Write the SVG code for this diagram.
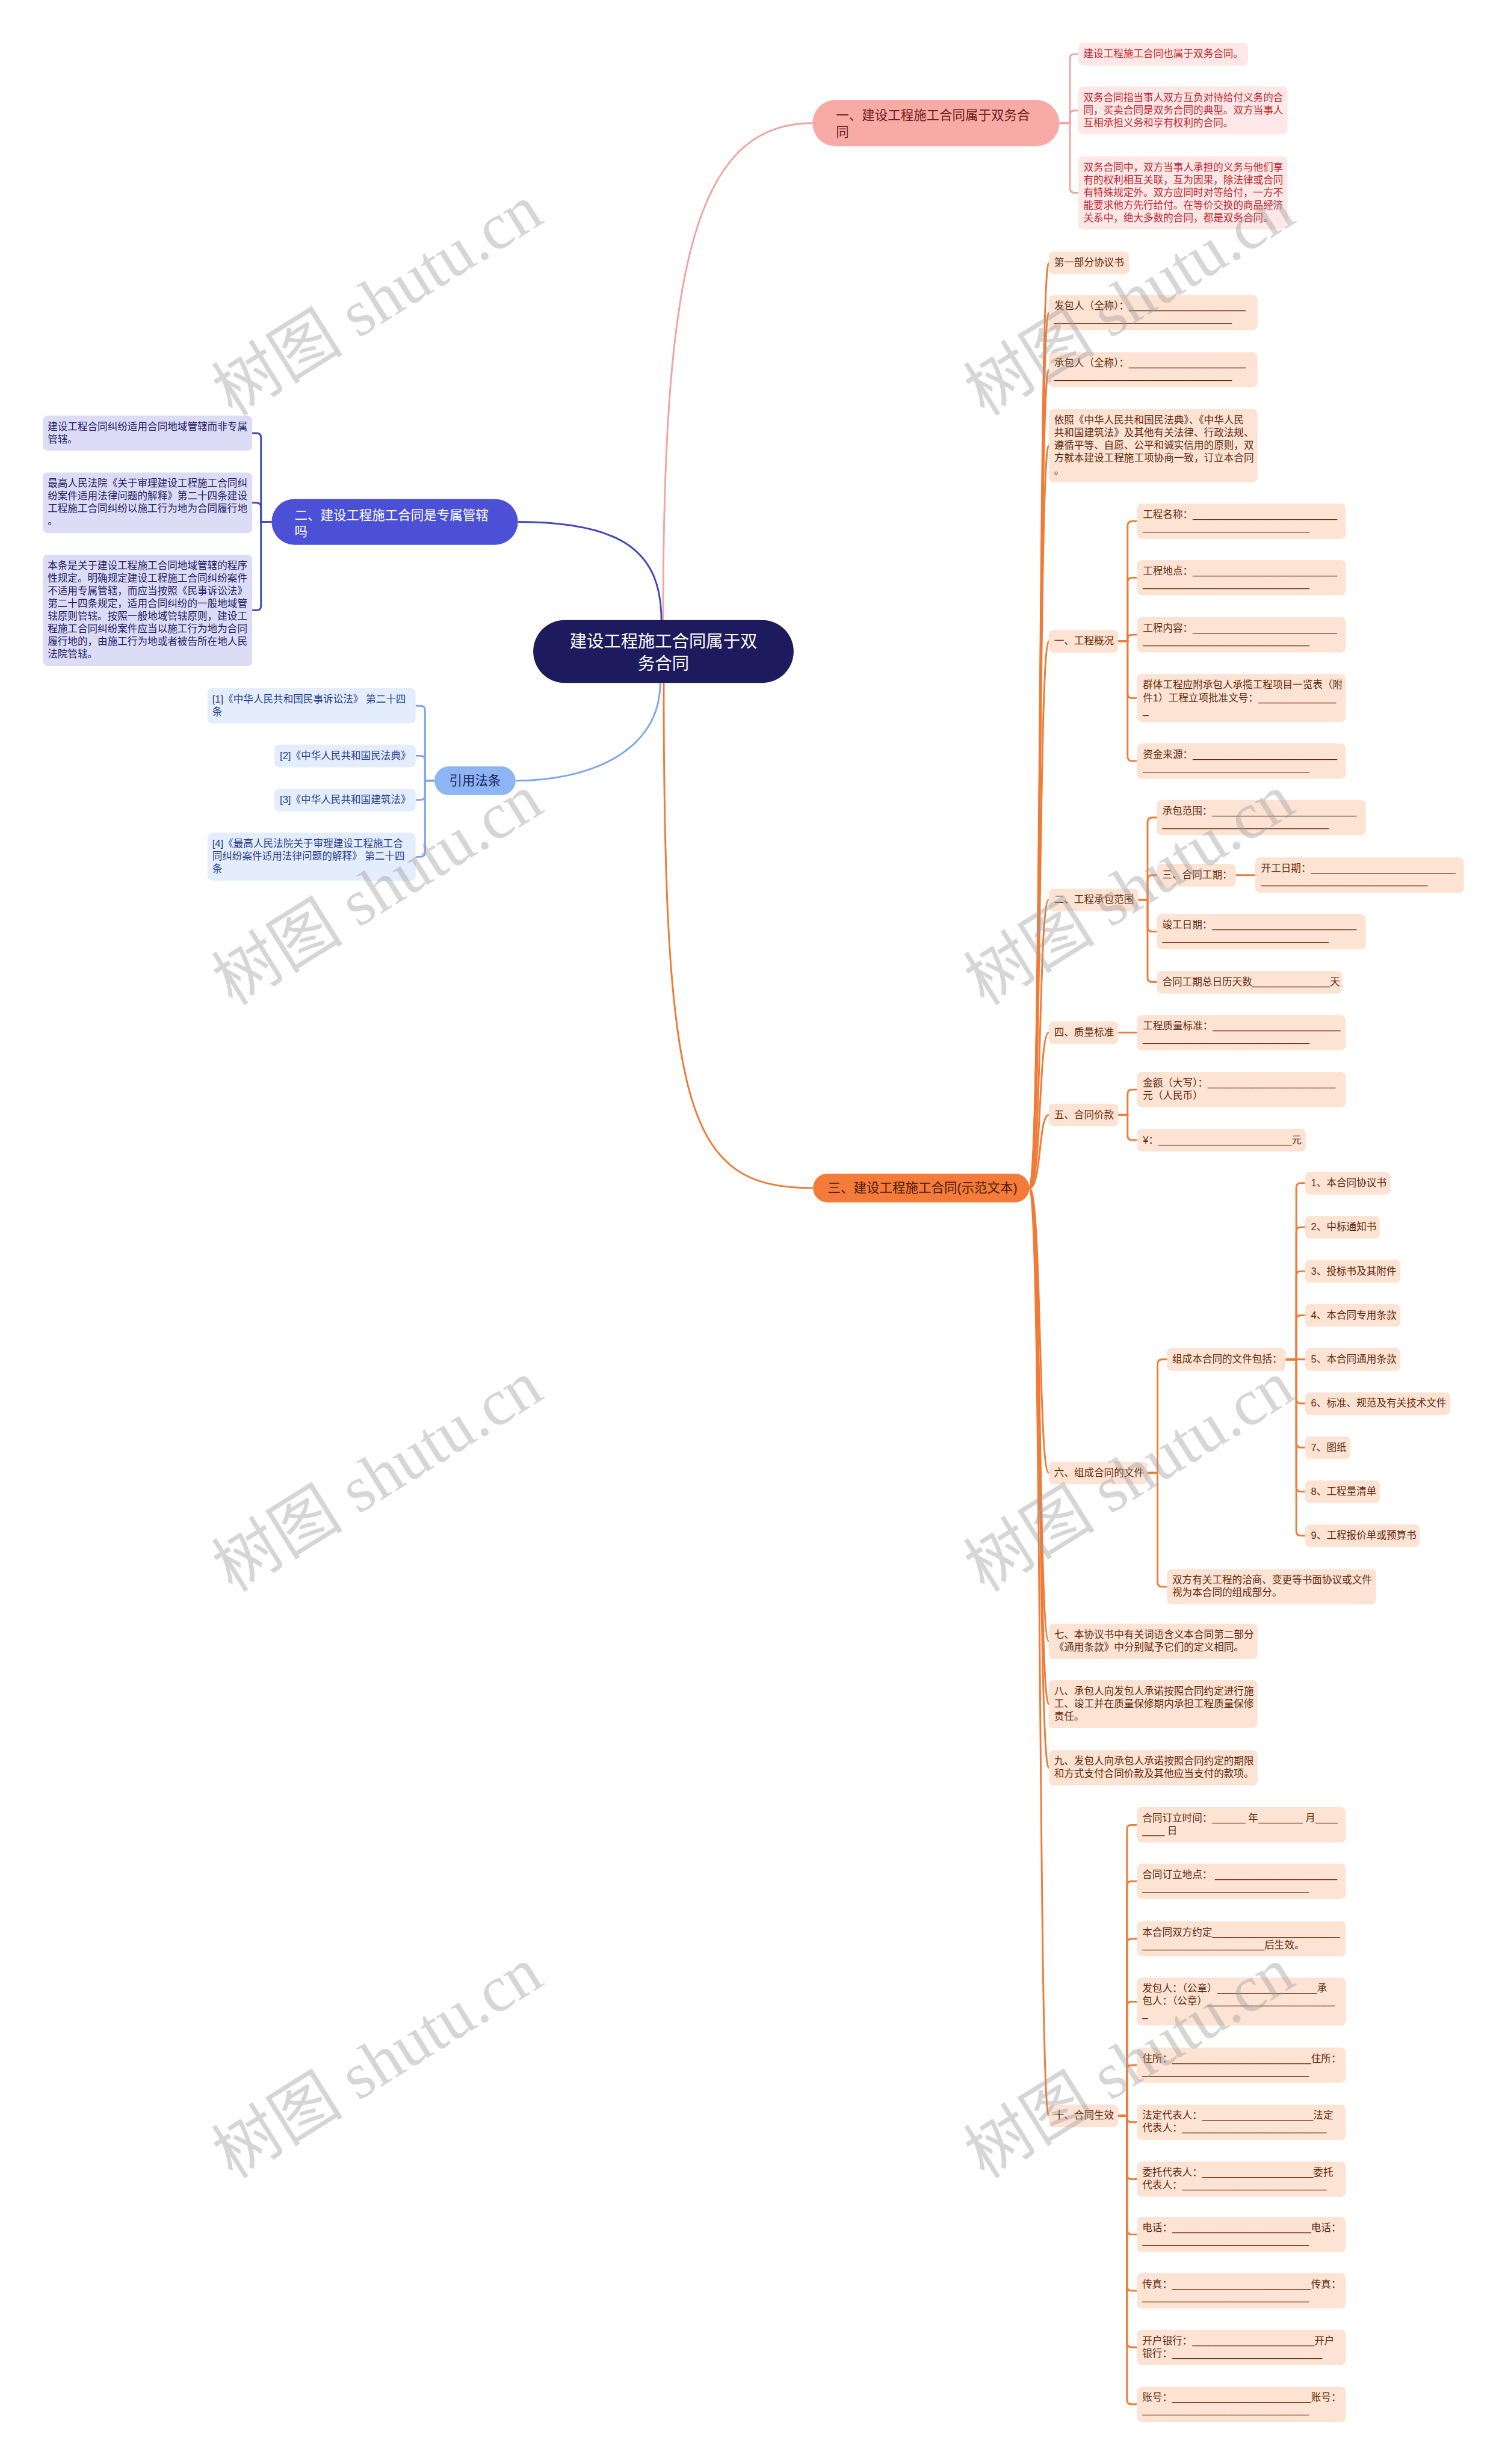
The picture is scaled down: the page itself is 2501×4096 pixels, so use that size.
<svg xmlns="http://www.w3.org/2000/svg" width="2501" height="4096" viewBox="0 0 2501 4096">
<style>
text{font-family:"Liberation Sans","Noto Sans CJK SC",sans-serif;}
.s{font-size:17px}
.m{font-size:22px}
.o{fill:#5e2a0e}
.p{fill:#c3252d}
.b{fill:#1f1d63}
.l{fill:#2a3d8f}
.ro{fill:#fde3d4}
.rp{fill:#fde8e7}
.rb{fill:#dcdcf7}
.rl{fill:#e4edfb}
.co{fill:none;stroke:#ef7b37;stroke-width:3}
.cp{fill:none;stroke:#efa6a2;stroke-width:3}
.cb{fill:none;stroke:#4347c0;stroke-width:3}
.cl{fill:none;stroke:#7fa6e8;stroke-width:3}
.wm{font-family:"Liberation Serif","Noto Sans CJK SC",serif;font-size:112px;fill:#9e9e9e;opacity:.42}
</style>
<rect width="2501" height="4096" fill="#fff"/>
<g transform="scale(0.97695)">
<g id="connectors">
<path class="cp" d="M1128 1055 C1128 460 1180 209.5 1382 209.5"/>
<path class="cb" d="M1125 1055 C1125 940 1060 888 881 888"/>
<path class="cl" d="M1123 1162 C1123 1280 1000 1328.5 877 1328.5"/>
<path class="co" d="M1129 1162 C1129 1900 1170 2021.5 1383 2021.5"/>
<path class="cp" d="M1802 209.5 H1820 V100 Q1820 92 1828 92 H1834"/>
<path class="cp" d="M1802 209.5 H1820 V196 Q1820 188 1828 188 H1834"/>
<path class="cp" d="M1802 209.5 H1820 V320 Q1820 328 1828 328 H1834"/>
<path class="cb" d="M462 888 H444 V745 Q444 737 436 737 H429"/>
<path class="cb" d="M462 888 H444 V863.5 Q444 855.5 436 855.5 H429"/>
<path class="cb" d="M462 888 H444 V1030.5 Q444 1038.5 436 1038.5 H429"/>
<path class="cl" d="M739 1328.5 H723 V1209 Q723 1201 715 1201 H707"/>
<path class="cl" d="M739 1328.5 H723 V1294 Q723 1286 715 1286 H707"/>
<path class="cl" d="M739 1328.5 H723 V1353 Q723 1361 715 1361 H707"/>
<path class="cl" d="M739 1328.5 H723 V1450 Q723 1458 715 1458 H707"/>
<path class="co" d="M1751 2021.5 C1772 2021.5 1766 447 1784 447"/>
<path class="co" d="M1751 2021.5 C1772 2021.5 1766 532 1784 532"/>
<path class="co" d="M1751 2021.5 C1772 2021.5 1766 629 1784 629"/>
<path class="co" d="M1751 2021.5 C1772 2021.5 1766 758 1784 758"/>
<path class="co" d="M1751 2021.5 C1772 2021.5 1766 1091 1784 1091"/>
<path class="co" d="M1751 2021.5 C1772 2021.5 1766 1531 1784 1531"/>
<path class="co" d="M1751 2021.5 C1772 2021.5 1766 1757 1784 1757"/>
<path class="co" d="M1751 2021.5 C1772 2021.5 1766 1897 1784 1897"/>
<path class="co" d="M1751 2021.5 C1772 2021.5 1766 2506 1784 2506"/>
<path class="co" d="M1751 2021.5 C1772 2021.5 1766 2793 1784 2793"/>
<path class="co" d="M1751 2021.5 C1772 2021.5 1766 2900 1784 2900"/>
<path class="co" d="M1751 2021.5 C1772 2021.5 1766 3008 1784 3008"/>
<path class="co" d="M1751 2021.5 C1772 2021.5 1766 3600 1784 3600"/>
<path class="co" d="M1902 1091 H1918 V895 Q1918 887 1926 887 H1934"/>
<path class="co" d="M1902 1091 H1918 V991 Q1918 983 1926 983 H1934"/>
<path class="co" d="M1902 1091 H1918 V1088 Q1918 1080 1926 1080 H1934"/>
<path class="co" d="M1902 1091 H1918 V1180 Q1918 1188 1926 1188 H1934"/>
<path class="co" d="M1902 1091 H1918 V1287 Q1918 1295 1926 1295 H1934"/>
<path class="co" d="M1936 1531 H1952 V1399 Q1952 1391 1960 1391 H1968"/>
<path class="co" d="M1936 1531 H1952 V1497 Q1952 1489 1960 1489 H1968"/>
<path class="co" d="M1936 1531 H1952 V1577 Q1952 1585 1960 1585 H1968"/>
<path class="co" d="M1936 1531 H1952 V1663 Q1952 1671 1960 1671 H1968"/>
<path class="co" d="M2102 1489 H2135"/>
<path class="co" d="M1902 1757 H1934"/>
<path class="co" d="M1902 1897 H1918 V1862 Q1918 1854 1926 1854 H1934"/>
<path class="co" d="M1902 1897 H1918 V1932 Q1918 1940 1926 1940 H1934"/>
<path class="co" d="M1952 2506 H1969 V2321 Q1969 2313 1977 2313 H1985"/>
<path class="co" d="M1952 2506 H1969 V2692 Q1969 2700 1977 2700 H1985"/>
<path class="co" d="M2187 2313 H2205 V2021 Q2205 2013 2213 2013 H2220"/>
<path class="co" d="M2187 2313 H2205 V2096 Q2205 2088 2213 2088 H2220"/>
<path class="co" d="M2187 2313 H2205 V2171 Q2205 2163 2213 2163 H2220"/>
<path class="co" d="M2187 2313 H2205 V2246 Q2205 2238 2213 2238 H2220"/>
<path class="co" d="M2187 2313 H2220"/>
<path class="co" d="M2187 2313 H2205 V2380 Q2205 2388 2213 2388 H2220"/>
<path class="co" d="M2187 2313 H2205 V2455 Q2205 2463 2213 2463 H2220"/>
<path class="co" d="M2187 2313 H2205 V2530 Q2205 2538 2213 2538 H2220"/>
<path class="co" d="M2187 2313 H2205 V2605 Q2205 2613 2213 2613 H2220"/>
<path class="co" d="M1902 3600 H1917 V3113 Q1917 3105 1925 3105 H1934"/>
<path class="co" d="M1902 3600 H1917 V3209 Q1917 3201 1925 3201 H1934"/>
<path class="co" d="M1902 3600 H1917 V3307 Q1917 3299 1925 3299 H1934"/>
<path class="co" d="M1902 3600 H1917 V3414 Q1917 3406 1925 3406 H1934"/>
<path class="co" d="M1902 3600 H1917 V3522 Q1917 3514 1925 3514 H1934"/>
<path class="co" d="M1902 3600 H1917 V3603 Q1917 3611 1925 3611 H1934"/>
<path class="co" d="M1902 3600 H1917 V3700 Q1917 3708 1925 3708 H1934"/>
<path class="co" d="M1902 3600 H1917 V3794 Q1917 3802 1925 3802 H1934"/>
<path class="co" d="M1902 3600 H1917 V3890 Q1917 3898 1925 3898 H1934"/>
<path class="co" d="M1902 3600 H1917 V3986 Q1917 3994 1925 3994 H1934"/>
<path class="co" d="M1902 3600 H1917 V4083 Q1917 4091 1925 4091 H1934"/>
</g>

<g id="root"><rect x="907" y="1055" width="443" height="107" rx="53.5" fill="#1d1b5e"/>
<text x="1128.5" y="1101" text-anchor="middle" font-size="29" fill="#fff">建设工程施工合同属于双</text>
<text x="1128.5" y="1139" text-anchor="middle" font-size="29" fill="#fff">务合同</text></g>

<g id="n1"><rect x="1382" y="170" width="420" height="79" rx="39.5" fill="#f8aaa6"/>
<text class="m" x="1422" y="204" fill="#6e1b1b">一、建设工程施工合同属于双务合<tspan x="1422" dy="28.5">同</tspan></text></g>
<g id="n1a"><rect class="rp" x="1834" y="73" width="289" height="38.5" rx="8"/><text class="s p" x="1843" y="97.5">建设工程施工合同也属于双务合同。</text></g>
<g id="n1b"><rect class="rp" x="1834" y="147" width="356" height="81.5" rx="8"/><text class="s p" x="1843" y="171.5">双务合同指当事人双方互负对待给付义务的合<tspan x="1843" dy="21.5">同，买卖合同是双务合同的典型。双方当事人</tspan><tspan x="1843" dy="21.5">互相承担义务和享有权利的合同。</tspan></text></g>
<g id="n1c"><rect class="rp" x="1834" y="266" width="356" height="124.5" rx="8"/><text class="s p" x="1843" y="290.5">双务合同中，双方当事人承担的义务与他们享<tspan x="1843" dy="21.5">有的权利相互关联，互为因果，除法律或合同</tspan><tspan x="1843" dy="21.5">有特殊规定外。双方应同时对等给付，一方不</tspan><tspan x="1843" dy="21.5">能要求他方先行给付。在等价交换的商品经济</tspan><tspan x="1843" dy="21.5">关系中，绝大多数的合同，都是双务合同。</tspan></text></g>

<g id="n2"><rect x="462" y="849" width="419" height="78" rx="39" fill="#4b50d6"/>
<text class="m" x="501" y="884" fill="#fff">二、建设工程施工合同是专属管辖<tspan x="501" dy="28">吗</tspan></text></g>
<g id="n2a"><rect class="rb" x="73" y="707" width="356" height="60" rx="8"/><text class="s b" x="81" y="731.5">建设工程合同纠纷适用合同地域管辖而非专属<tspan x="81" dy="21.5">管辖。</tspan></text></g>
<g id="n2b"><rect class="rb" x="73" y="804" width="356" height="103" rx="8"/><text class="s b" x="81" y="828.5">最高人民法院《关于审理建设工程施工合同纠<tspan x="81" dy="21.5">纷案件适用法律问题的解释》第二十四条建设</tspan><tspan x="81" dy="21.5">工程施工合同纠纷以施工行为地为合同履行地</tspan><tspan x="81" dy="21.5">。</tspan></text></g>
<g id="n2c"><rect class="rb" x="73" y="944" width="356" height="189" rx="8"/><text class="s b" x="81" y="968.5">本条是关于建设工程施工合同地域管辖的程序<tspan x="81" dy="21.5">性规定。明确规定建设工程施工合同纠纷案件</tspan><tspan x="81" dy="21.5">不适用专属管辖，而应当按照《民事诉讼法》</tspan><tspan x="81" dy="21.5">第二十四条规定，适用合同纠纷的一般地域管</tspan><tspan x="81" dy="21.5">辖原则管辖。按照一般地域管辖原则，建设工</tspan><tspan x="81" dy="21.5">程施工合同纠纷案件应当以施工行为地为合同</tspan><tspan x="81" dy="21.5">履行地的，由施工行为地或者被告所在地人民</tspan><tspan x="81" dy="21.5">法院管辖。</tspan></text></g>

<g id="nref"><rect x="739" y="1304" width="138" height="49" rx="24.5" fill="#8db4f3"/><text class="m b" x="808" y="1336" text-anchor="middle">引用法条</text></g>
<g id="nref1"><rect class="rl" x="353" y="1171" width="354" height="60" rx="8"/><text class="s l" x="361" y="1195.5">[1]《中华人民共和国民事诉讼法》 第二十四<tspan x="361" dy="21.5">条</tspan></text></g>
<g id="nref2"><rect class="rl" x="467" y="1267" width="240" height="38.5" rx="8"/><text class="s l" x="476" y="1291.5">[2]《中华人民共和国民法典》</text></g>
<g id="nref3"><rect class="rl" x="467" y="1342" width="240" height="38.5" rx="8"/><text class="s l" x="476" y="1366.5">[3]《中华人民共和国建筑法》</text></g>
<g id="nref4"><rect class="rl" x="353" y="1417" width="354" height="81.5" rx="8"/><text class="s l" x="361" y="1441.5">[4]《最高人民法院关于审理建设工程施工合<tspan x="361" dy="21.5">同纠纷案件适用法律问题的解释》 第二十四</tspan><tspan x="361" dy="21.5">条</tspan></text></g>

<g id="n3"><rect x="1383" y="1997" width="368" height="49" rx="24.5" fill="#f47b3a"/><text class="m" x="1408" y="2029" fill="#4a1c04">三、建设工程施工合同(示范文本)</text></g>

<g id="a1"><rect class="ro" x="1784" y="428" width="137" height="38.5" rx="8"/><text class="s o" x="1793" y="452.5">第一部分协议书</text></g>
<g id="a2"><rect class="ro" x="1784" y="502" width="355" height="60" rx="8"/><text class="s o" x="1793" y="526.5">发包人（全称）：_____________________<tspan x="1793" dy="21.5">________________________________</tspan></text></g>
<g id="a3"><rect class="ro" x="1784" y="599" width="355" height="60" rx="8"/><text class="s o" x="1793" y="623.5">承包人（全称）：_____________________<tspan x="1793" dy="21.5">________________________________</tspan></text></g>
<g id="a4"><rect class="ro" x="1784" y="696" width="355" height="124.5" rx="8"/><text class="s o" x="1793" y="720.5">依照《中华人民共和国民法典》、《中华人民<tspan x="1793" dy="21.5">共和国建筑法》及其他有关法律、行政法规、</tspan><tspan x="1793" dy="21.5">遵循平等、自愿、公平和诚实信用的原则，双</tspan><tspan x="1793" dy="21.5">方就本建设工程施工项协商一致，订立本合同</tspan><tspan x="1793" dy="21.5">。</tspan></text></g>

<g id="b1"><rect class="ro" x="1784" y="1072" width="118" height="38.5" rx="8"/><text class="s o" x="1793" y="1096.5">一、工程概况</text></g>
<g id="b1a"><rect class="ro" x="1934" y="857" width="355" height="60" rx="8"/><text class="s o" x="1944" y="881.5">工程名称：__________________________<tspan x="1944" dy="21.5">______________________________</tspan></text></g>
<g id="b1b"><rect class="ro" x="1934" y="953" width="355" height="60" rx="8"/><text class="s o" x="1944" y="977.5">工程地点：__________________________<tspan x="1944" dy="21.5">______________________________</tspan></text></g>
<g id="b1c"><rect class="ro" x="1934" y="1050" width="355" height="60" rx="8"/><text class="s o" x="1944" y="1074.5">工程内容：__________________________<tspan x="1944" dy="21.5">______________________________</tspan></text></g>
<g id="b1d"><rect class="ro" x="1934" y="1147" width="355" height="81.5" rx="8"/><text class="s o" x="1944" y="1171.5">群体工程应附承包人承揽工程项目一览表（附<tspan x="1944" dy="21.5">件1）工程立项批准文号：______________</tspan><tspan x="1944" dy="21.5">_</tspan></text></g>
<g id="b1e"><rect class="ro" x="1934" y="1265" width="355" height="60" rx="8"/><text class="s o" x="1944" y="1289.5">资金来源：__________________________<tspan x="1944" dy="21.5">______________________________</tspan></text></g>

<g id="b2"><rect class="ro" x="1784" y="1512" width="152" height="38.5" rx="8"/><text class="s o" x="1793" y="1536.5">二、工程承包范围</text></g>
<g id="b2a"><rect class="ro" x="1968" y="1361" width="355" height="60" rx="8"/><text class="s o" x="1977" y="1385.5">承包范围：__________________________<tspan x="1977" dy="21.5">______________________________</tspan></text></g>
<g id="b2b"><rect class="ro" x="1968" y="1470" width="134" height="38.5" rx="8"/><text class="s o" x="1977" y="1494.5">三、合同工期：</text></g>
<g id="b2b1"><rect class="ro" x="2135" y="1459" width="355" height="60" rx="8"/><text class="s o" x="2145" y="1483.5">开工日期：__________________________<tspan x="2145" dy="21.5">______________________________</tspan></text></g>
<g id="b2c"><rect class="ro" x="1968" y="1555" width="355" height="60" rx="8"/><text class="s o" x="1977" y="1579.5">竣工日期：__________________________<tspan x="1977" dy="21.5">______________________________</tspan></text></g>
<g id="b2d"><rect class="ro" x="1968" y="1652" width="315" height="38.5" rx="8"/><text class="s o" x="1977" y="1676.5">合同工期总日历天数______________天</text></g>

<g id="b4"><rect class="ro" x="1784" y="1738" width="118" height="38.5" rx="8"/><text class="s o" x="1793" y="1762.5">四、质量标准</text></g>
<g id="b4a"><rect class="ro" x="1934" y="1727" width="355" height="60" rx="8"/><text class="s o" x="1944" y="1751.5">工程质量标准：_______________________<tspan x="1944" dy="21.5">______________________________</tspan></text></g>

<g id="b5"><rect class="ro" x="1784" y="1878" width="118" height="38.5" rx="8"/><text class="s o" x="1793" y="1902.5">五、合同价款</text></g>
<g id="b5a"><rect class="ro" x="1934" y="1824" width="355" height="60" rx="8"/><text class="s o" x="1944" y="1848.5">金额（大写）：_______________________<tspan x="1944" dy="21.5">元（人民币）</tspan></text></g>
<g id="b5b"><rect class="ro" x="1934" y="1921" width="287" height="38.5" rx="8"/><text class="s o" x="1944" y="1945.5">¥：________________________元</text></g>

<g id="b6"><rect class="ro" x="1784" y="2487" width="168" height="38.5" rx="8"/><text class="s o" x="1793" y="2511.5">六、组成合同的文件</text></g>
<g id="b6a"><rect class="ro" x="1985" y="2294" width="202" height="38.5" rx="8"/><text class="s o" x="1994" y="2318.5">组成本合同的文件包括：</text></g>
<g id="b6b"><rect class="ro" x="1985" y="2670" width="356" height="60" rx="8"/><text class="s o" x="1994" y="2694.5">双方有关工程的洽商、变更等书面协议或文件<tspan x="1994" dy="21.5">视为本合同的组成部分。</tspan></text></g>
<g id="d1"><rect class="ro" x="2220" y="1994" width="145" height="38.5" rx="8"/><text class="s o" x="2230" y="2018.5">1、本合同协议书</text></g>
<g id="d2"><rect class="ro" x="2220" y="2069" width="127" height="38.5" rx="8"/><text class="s o" x="2230" y="2093.5">2、中标通知书</text></g>
<g id="d3"><rect class="ro" x="2220" y="2144" width="162" height="38.5" rx="8"/><text class="s o" x="2230" y="2168.5">3、投标书及其附件</text></g>
<g id="d4"><rect class="ro" x="2220" y="2219" width="162" height="38.5" rx="8"/><text class="s o" x="2230" y="2243.5">4、本合同专用条款</text></g>
<g id="d5"><rect class="ro" x="2220" y="2294" width="162" height="38.5" rx="8"/><text class="s o" x="2230" y="2318.5">5、本合同通用条款</text></g>
<g id="d6"><rect class="ro" x="2220" y="2369" width="247" height="38.5" rx="8"/><text class="s o" x="2230" y="2393.5">6、标准、规范及有关技术文件</text></g>
<g id="d7"><rect class="ro" x="2220" y="2444" width="77" height="38.5" rx="8"/><text class="s o" x="2230" y="2468.5">7、图纸</text></g>
<g id="d8"><rect class="ro" x="2220" y="2519" width="127" height="38.5" rx="8"/><text class="s o" x="2230" y="2543.5">8、工程量清单</text></g>
<g id="d9"><rect class="ro" x="2220" y="2594" width="195" height="38.5" rx="8"/><text class="s o" x="2230" y="2618.5">9、工程报价单或预算书</text></g>

<g id="b7"><rect class="ro" x="1784" y="2763" width="355" height="60" rx="8"/><text class="s o" x="1793" y="2787.5">七、本协议书中有关词语含义本合同第二部分<tspan x="1793" dy="21.5">《通用条款》中分别赋予它们的定义相同。</tspan></text></g>
<g id="b8"><rect class="ro" x="1784" y="2859" width="355" height="81.5" rx="8"/><text class="s o" x="1793" y="2883.5">八、承包人向发包人承诺按照合同约定进行施<tspan x="1793" dy="21.5">工、竣工并在质量保修期内承担工程质量保修</tspan><tspan x="1793" dy="21.5">责任。</tspan></text></g>
<g id="b9"><rect class="ro" x="1784" y="2978" width="355" height="60" rx="8"/><text class="s o" x="1793" y="3002.5">九、发包人向承包人承诺按照合同约定的期限<tspan x="1793" dy="21.5">和方式支付合同价款及其他应当支付的款项。</tspan></text></g>

<g id="b10"><rect class="ro" x="1784" y="3581" width="118" height="38.5" rx="8"/><text class="s o" x="1793" y="3605.5">十、合同生效</text></g>
<g id="e1"><rect class="ro" x="1934" y="3075" width="355" height="60" rx="8"/><text class="s o" x="1943" y="3099.5">合同订立时间：______ 年________ 月____<tspan x="1943" dy="21.5">____ 日</tspan></text></g>
<g id="e2"><rect class="ro" x="1934" y="3171" width="355" height="60" rx="8"/><text class="s o" x="1943" y="3195.5">合同订立地点： ______________________<tspan x="1943" dy="21.5">______________________________</tspan></text></g>
<g id="e3"><rect class="ro" x="1934" y="3269" width="355" height="60" rx="8"/><text class="s o" x="1943" y="3293.5">本合同双方约定_______________________<tspan x="1943" dy="21.5">______________________后生效。</tspan></text></g>
<g id="e4"><rect class="ro" x="1934" y="3365" width="355" height="81.5" rx="8"/><text class="s o" x="1943" y="3389.5">发包人：（公章）__________________承<tspan x="1943" dy="21.5">包人：（公章）_______________________</tspan><tspan x="1943" dy="21.5">_</tspan></text></g>
<g id="e5"><rect class="ro" x="1934" y="3484" width="355" height="60" rx="8"/><text class="s o" x="1943" y="3508.5">住所：_________________________住所：<tspan x="1943" dy="21.5">______________________________</tspan></text></g>
<g id="e6"><rect class="ro" x="1934" y="3581" width="355" height="60" rx="8"/><text class="s o" x="1943" y="3605.5">法定代表人：____________________法定<tspan x="1943" dy="21.5">代表人：__________________________</tspan></text></g>
<g id="e7"><rect class="ro" x="1934" y="3678" width="355" height="60" rx="8"/><text class="s o" x="1943" y="3702.5">委托代表人：____________________委托<tspan x="1943" dy="21.5">代表人：__________________________</tspan></text></g>
<g id="e8"><rect class="ro" x="1934" y="3772" width="355" height="60" rx="8"/><text class="s o" x="1943" y="3796.5">电话：_________________________电话：<tspan x="1943" dy="21.5">______________________________</tspan></text></g>
<g id="e9"><rect class="ro" x="1934" y="3868" width="355" height="60" rx="8"/><text class="s o" x="1943" y="3892.5">传真：_________________________传真：<tspan x="1943" dy="21.5">______________________________</tspan></text></g>
<g id="e10"><rect class="ro" x="1934" y="3964" width="355" height="60" rx="8"/><text class="s o" x="1943" y="3988.5">开户银行：______________________开户<tspan x="1943" dy="21.5">银行：___________________________</tspan></text></g>
<g id="e11"><rect class="ro" x="1934" y="4061" width="355" height="60" rx="8"/><text class="s o" x="1943" y="4085.5">账号：_________________________账号：<tspan x="1943" dy="21.5">______________________________</tspan></text></g>

<g id="watermarks">
<text class="wm" text-anchor="middle" transform="translate(642 511) rotate(-32)" y="38">树图 shutu.cn</text>
<text class="wm" text-anchor="middle" transform="translate(1921 511) rotate(-32)" y="38">树图 shutu.cn</text>
<text class="wm" text-anchor="middle" transform="translate(642 1514) rotate(-32)" y="38">树图 shutu.cn</text>
<text class="wm" text-anchor="middle" transform="translate(1921 1514) rotate(-32)" y="38">树图 shutu.cn</text>
<text class="wm" text-anchor="middle" transform="translate(642 2512) rotate(-32)" y="38">树图 shutu.cn</text>
<text class="wm" text-anchor="middle" transform="translate(1921 2512) rotate(-32)" y="38">树图 shutu.cn</text>
<text class="wm" text-anchor="middle" transform="translate(642 3510) rotate(-32)" y="38">树图 shutu.cn</text>
<text class="wm" text-anchor="middle" transform="translate(1921 3510) rotate(-32)" y="38">树图 shutu.cn</text>
</g>
</g>
</svg>
